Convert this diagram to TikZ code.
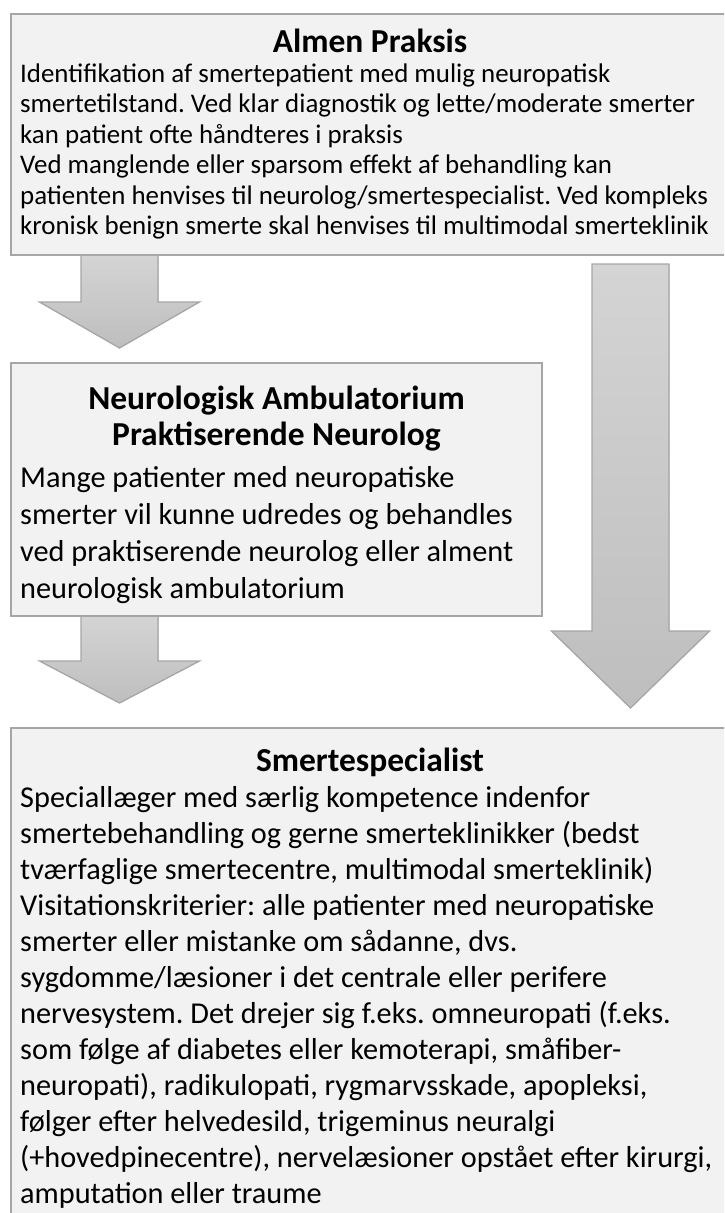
\documentclass[tikz,border=0pt]{standalone}
\usepackage{fontspec}
\setmainfont{Carlito}
\frenchspacing
\usetikzlibrary{calc}
\definecolor{boxfill}{HTML}{F2F2F2}
\definecolor{boxline}{HTML}{A6A6A6}
\definecolor{arrtop}{HTML}{D4D4D4}
\definecolor{arrbot}{HTML}{BEBEBE}
\tikzset{
  panel/.style={draw=boxline, fill=boxfill, line width=1.8pt, rectangle, inner sep=0pt, outer sep=0pt, anchor=north west},
  blockarrow/.style={draw=boxline, line width=1.3pt, top color=arrtop, bottom color=arrbot, line join=miter},
  ttl/.style={font=\fontsize{33.5}{38}\selectfont\bfseries, anchor=base, inner sep=0pt},
  smallbody/.style={font=\fontsize{26.9}{30}\selectfont, anchor=base west, inner sep=0pt},
  body/.style={font=\fontsize{30.3}{36}\selectfont, anchor=base west, inner sep=0pt},
}
\newcommand\blockarr[5]{%
  \filldraw[blockarrow] let \p1=(#1), \p2=(#2) in
    (\x1-#3pt,\y1) -- (\x1-#3pt,\y2+#5pt) -- (\x1-#4pt,\y2+#5pt) -- (\x2,\y2)
    -- (\x1+#4pt,\y2+#5pt) -- (\x1+#3pt,\y2+#5pt) -- (\x1+#3pt,\y1) -- cycle;}
\begin{document}
\begin{tikzpicture}[x=1pt,y=-1pt]
\useasboundingbox (0,0) rectangle (724,1213);
\clip (0,0) rectangle (724,1213);

% box positions
\path (11,14) coordinate (p1) (11,362.7) coordinate (p2) (11,728) coordinate (p3);

% arrows (drawn first, boxes on top)
\coordinate (a1top) at (119.5,255);
\coordinate (a1tip) at (119.5,348);
\coordinate (a2top) at (119.5,616);
\coordinate (a2tip) at (119.5,703);
\coordinate (a3top) at (630.5,264);
\coordinate (a3tip) at (630.5,708);
\blockarr{a1top}{a1tip}{38.5}{80}{46}
\blockarr{a2top}{a2tip}{38.5}{80}{42}
\blockarr{a3top}{a3tip}{38.5}{79}{77}

\node[panel, minimum width=718pt, minimum height=241pt] (almen) at (p1) {};
\node[panel, minimum width=531pt, minimum height=253.3pt] (neuro) at (p2) {};
\node[panel, minimum width=718pt, minimum height=500pt] (spec) at (p3) {};

% Box 1
\node[ttl] (t1) at (370,52) {Almen Praksis};
\foreach \t [count=\i from 0] in {
  {Identifikation af smertepatient med mulig neuropatisk},
  {smertetilstand. Ved klar diagnostik og lette/moderate smerter},
  {kan patient ofte håndteres i praksis},
  {Ved manglende eller sparsom effekt af behandling kan},
  {patienten henvises til neurolog/smertespecialist. Ved kompleks},
  {kronisk benign smerte skal henvises til multimodal smerteklinik}}
  \node[smallbody] (b1l\i) at (20,82+\i*30.5) {\t};

% Box 2
\node[ttl] (t2a) at (276.5,409) {Neurologisk Ambulatorium};
\node[ttl] (t2b) at (276.5,445) {Praktiserende Neurolog};
\foreach \t [count=\i from 0] in {
  {Mange patienter med neuropatiske},
  {smerter vil kunne udredes og behandles},
  {ved praktiserende neurolog eller alment},
  {neurologisk ambulatorium}}
  \node[body] (b2l\i) at (20,487+\i*37.3) {\t};

% Box 3
\node[ttl] (t3) at (370,771) {Smertespecialist};
\foreach \t [count=\i from 0] in {
  {Speciallæger med særlig kompetence indenfor},
  {smertebehandling og gerne smerteklinikker (bedst},
  {tværfaglige smertecentre, multimodal smerteklinik)},
  {Visitationskriterier: alle patienter med neuropatiske},
  {smerter eller mistanke om sådanne, dvs.},
  {sygdomme/læsioner i det centrale eller perifere},
  {nervesystem. Det drejer sig f.eks. omneuropati (f.eks.},
  {som følge af diabetes eller kemoterapi, småfiber-},
  {neuropati), radikulopati, rygmarvsskade, apopleksi,},
  {følger efter helvedesild, trigeminus neuralgi},
  {(+hovedpinecentre), nervelæsioner opstået efter kirurgi,},
  {amputation eller traume}}
  \node[body] (b3l\i) at (20,807+\i*36) {\t};
\end{tikzpicture}
\end{document}
